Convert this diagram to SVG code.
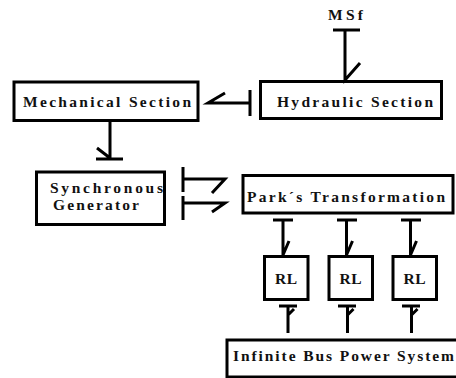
<svg xmlns="http://www.w3.org/2000/svg" width="456" height="378" viewBox="0 0 456 378">
<style>
.box{fill:#fff;stroke:#000;stroke-width:3}
.t{font-family:"Liberation Serif","Times New Roman",serif;font-weight:bold;font-size:15.5px;fill:#111}
.b{fill:none;stroke:#000;stroke-width:3;stroke-linecap:butt;stroke-linejoin:miter}
</style>
<rect width="456" height="378" fill="#fff"/>
<g id="msf"><text class="t" x="328" y="20" textLength="35" lengthAdjust="spacing">MSf</text></g>
<g id="mechanical"><rect class="box" x="14" y="82" width="184" height="38.5"/><text class="t" x="23" y="106.5" textLength="168" lengthAdjust="spacing">Mechanical Section</text></g>
<g id="hydraulic"><rect class="box" x="260.5" y="81.5" width="181" height="37"/><text class="t" x="277" y="106.5" textLength="156" lengthAdjust="spacing">Hydraulic Section</text></g>
<g id="synchronous"><rect class="box" x="36.5" y="172" width="128" height="52.5"/><text class="t" x="50" y="193" textLength="113" lengthAdjust="spacing">Synchronous</text><text class="t" x="53" y="210" textLength="86" lengthAdjust="spacing">Generator</text></g>
<g id="park"><rect class="box" x="243" y="175.5" width="210" height="37.5"/><text class="t" x="247" y="201.5" textLength="198" lengthAdjust="spacing">Park´s Transformation</text></g>
<g id="rl1"><rect class="box" x="264.5" y="256.5" width="43.5" height="43"/><text class="t" x="275" y="283.5" textLength="22" lengthAdjust="spacing">RL</text></g>
<g id="rl2"><rect class="box" x="329" y="256.5" width="43.5" height="43"/><text class="t" x="339.5" y="283.5" textLength="22" lengthAdjust="spacing">RL</text></g>
<g id="rl3"><rect class="box" x="393" y="256.5" width="43.5" height="43"/><text class="t" x="403.5" y="283.5" textLength="22" lengthAdjust="spacing">RL</text></g>
<g id="infinite-bus"><rect class="box" x="227" y="340" width="240" height="37"/><text class="t" x="233" y="361" textLength="221" lengthAdjust="spacing">Infinite Bus Power System</text></g>
<g id="connectors">
<path class="b" d="M333 30H360M345 30V80L360 63"/>
<path class="b" d="M250 90V116M250 103H208L225 93"/>
<path class="b" d="M110 121V159M96 159H123M110 158L97 148"/>
<path class="b" d="M183 167V192M183 179H225L212 193"/>
<path class="b" d="M183 196V220M183 203H225L212 212"/>
<path class="b" d="M273 220H293M283 220V255L289 241"/>
<path class="b" d="M337 220H357M346.5 220V255L352.5 241"/>
<path class="b" d="M401 220H421M410.5 220V255L416.5 241"/>
<path class="b" d="M279 306H297M288 306V333M288 315L294 309"/>
<path class="b" d="M338 306H356M347.5 306V333M347.5 315L353.5 309"/>
<path class="b" d="M402 306H420M411.5 306V333M411.5 315L417.5 309"/>
</g>
</svg>
